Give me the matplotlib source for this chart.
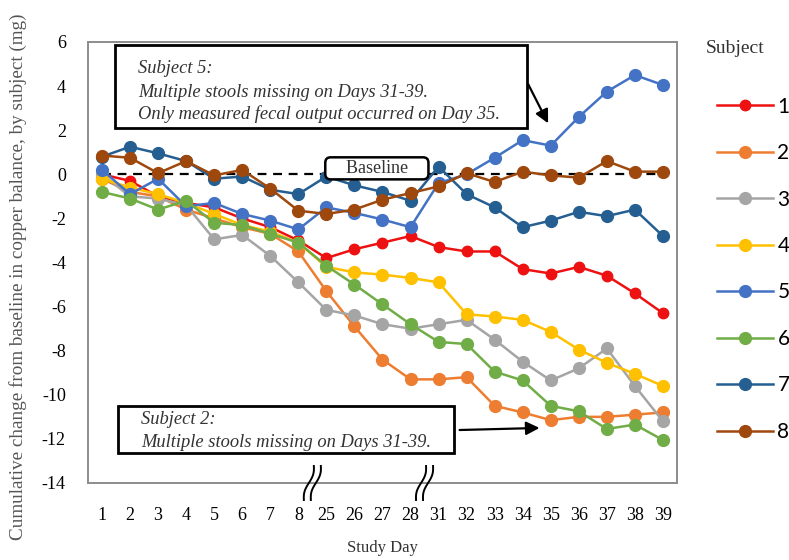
import numpy as np
import matplotlib
matplotlib.use("Agg")
import matplotlib.pyplot as plt
from matplotlib.patches import Rectangle

days = ['1', '2', '3', '4', '5', '6', '7', '8', '25', '26', '27', '28',
        '31', '32', '33', '34', '35', '36', '37', '38', '39']

s1 = [0.0, -0.3, -1.0, -1.3, -1.5, -2.0, -2.4, -3.0, -3.8, -3.4, -3.1, -2.8,
      -3.3, -3.5, -3.5, -4.3, -4.5, -4.2, -4.6, -5.4, -6.3]
s2 = [-0.2, -0.8, -1.0, -1.6, -2.0, -2.4, -2.7, -3.5, -5.3, -6.9, -8.4, -9.3,
      -9.3, -9.2, -10.5, -10.8, -11.15, -11.0, -11.0, -10.9, -10.8]
s3 = [0.0, -1.0, -1.1, -1.4, -2.95, -2.75, -3.7, -4.9, -6.15, -6.4, -6.8, -7.0,
      -6.8, -6.6, -7.5, -8.5, -9.35, -8.8, -7.9, -9.6, -11.2]
s4 = [-0.2, -0.6, -0.9, -1.3, -1.8, -2.3, -2.6, -3.1, -4.2, -4.45, -4.55, -4.7,
      -4.9, -6.35, -6.45, -6.6, -7.15, -7.95, -8.55, -9.05, -9.6]
s5 = [0.2, -0.9, -0.2, -1.45, -1.3, -1.8, -2.1, -2.5, -1.5, -1.75, -2.05, -2.4,
      -0.4, 0.0, 0.75, 1.55, 1.3, 2.6, 3.75, 4.5, 4.05]
s6 = [-0.8, -1.1, -1.6, -1.2, -2.2, -2.3, -2.7, -3.1, -4.15, -5.0, -5.9, -6.8,
      -7.6, -7.7, -8.95, -9.35, -10.5, -10.75, -11.55, -11.35, -12.05]
s7 = [0.8, 1.25, 0.95, 0.6, -0.2, -0.1, -0.7, -0.9, -0.1, -0.5, -0.8, -1.2,
      0.35, -0.9, -1.5, -2.4, -2.1, -1.7, -1.9, -1.6, -2.8]
s8 = [0.85, 0.75, 0.05, 0.6, -0.05, 0.2, -0.65, -1.65, -1.8, -1.6, -1.15, -0.85,
      -0.55, 0.05, -0.35, 0.12, -0.05, -0.15, 0.6, 0.12, 0.12]

series = [s1, s2, s3, s4, s5, s6, s7, s8]
labels = ['1', '2', '3', '4', '5', '6', '7', '8']
colors = ['#EE1111', '#ED7D31', '#A5A5A5', '#FFC000', '#4472C4', '#70AD47',
          '#255E91', '#9E480E']
yticks = [6, 4, 2, 0, -2, -4, -6, -8, -10, -12, -14]

serif = 'Liberation Serif'

fig = plt.figure(figsize=(7.89, 5.60), dpi=100)
ax = fig.add_axes([0.1115, 0.1375, 0.7465, 0.7875])

x = np.arange(len(days))
handles = []
for i, (s, c, lab) in enumerate(zip(series, colors, labels)):
    ms = 7.5 if i == 0 else 8.5
    h, = ax.plot(x, s, '-o', color=c, lw=1.8, ms=ms, label=lab, zorder=3 + i)
    handles.append(h)

# baseline
ax.plot([x[0], x[-1]], [0, 0], ls=(0, (4, 3)), color='black', lw=1.6, zorder=2)
ax.text(9.8, 0.27, '    Baseline    ', family=serif, fontsize=13, ha='center', va='center',
        zorder=20, color='#333333',
        bbox=dict(boxstyle='round,pad=0.14,rounding_size=0.3', fc='white', ec='black', lw=1.8))

ax.set_xlim(-0.5, len(days) - 0.5)
ax.set_ylim(-14, 6)
ax.set_xticks(x)
ax.set_xticklabels(days, family=serif, fontsize=13)
ax.set_yticks(yticks)
ax.set_yticklabels([str(v) for v in yticks], family=serif, fontsize=13)
ax.tick_params(axis='both', length=0)
ax.tick_params(axis='y', pad=16)
ax.tick_params(axis='x', pad=17)
for sp in ax.spines.values():
    sp.set_color('#8C8C8C')
    sp.set_linewidth(1.4)

ax.set_xlabel('Study Day', family=serif, fontsize=12, labelpad=12, color='#333333')
fig.text(0.023, 0.505, 'Cumulative change from baseline in copper balance, by subject (mg)',
         family=serif, fontsize=13.8, rotation=90, ha='center', va='center', color='#555555')

# annotation box 1
ax.add_patch(Rectangle((0.046, 0.805), 0.70, 0.188, transform=ax.transAxes,
                       fill=True, fc='white', ec='black', lw=2, zorder=15))
ann_kw = dict(family=serif, style='italic', fontsize=13.3, color='#333333',
              transform=ax.transAxes, ha='left', va='center', zorder=16)
ax.text(0.085, 0.940, 'Subject 5:', **ann_kw)
ax.text(0.085, 0.886, 'Multiple stools missing on Days 31-39.', **ann_kw)
ax.text(0.085, 0.836, 'Only measured fecal output occurred on Day 35.', **ann_kw)
ax.annotate('', xy=(15.95, 2.2), xytext=(15.15, 4.2),
            arrowprops=dict(arrowstyle='-|>', color='black', lw=1.6, mutation_scale=20),
            zorder=16)

# annotation box 2
ax.add_patch(Rectangle((0.051, 0.068), 0.571, 0.107, transform=ax.transAxes,
                       fill=True, fc='white', ec='black', lw=2, zorder=15))
ax.text(0.09, 0.143, 'Subject 2:', **ann_kw)
ax.text(0.09, 0.092, 'Multiple stools missing on Days 31-39.', **ann_kw)
ax.annotate('', xy=(15.7, -11.5), xytext=(12.65, -11.6),
            arrowprops=dict(arrowstyle='-|>', color='black', lw=1.6, mutation_scale=20),
            zorder=16)

# axis break marks
t = np.linspace(-1, 1, 40)
for bx in [7.5, 11.5]:
    xc = (bx + 0.5) / len(days)
    for off in [-3.5, 3.5]:
        xs = xc + (off + 5 * t + 1.8 * np.sin(np.pi * t)) / 589.0
        ys = 0 + 17 * t / 441.0
        ax.plot(xs, ys, color='black', lw=1.4, transform=ax.transAxes, clip_on=False,
                zorder=30)

fig.text(0.932, 0.914, 'Subject', family=serif, fontsize=14, ha='center', va='center',
         color='#333333')
leg = ax.legend(handles=handles, labels=labels, loc='upper left',
                bbox_to_anchor=(0.885, 0.861), bbox_transform=fig.transFigure,
                frameon=False, handlelength=2.7, handletextpad=0.2,
                labelspacing=1.27, prop=dict(family='Lato', size=15))

fig.savefig('out.png', dpi=100)
